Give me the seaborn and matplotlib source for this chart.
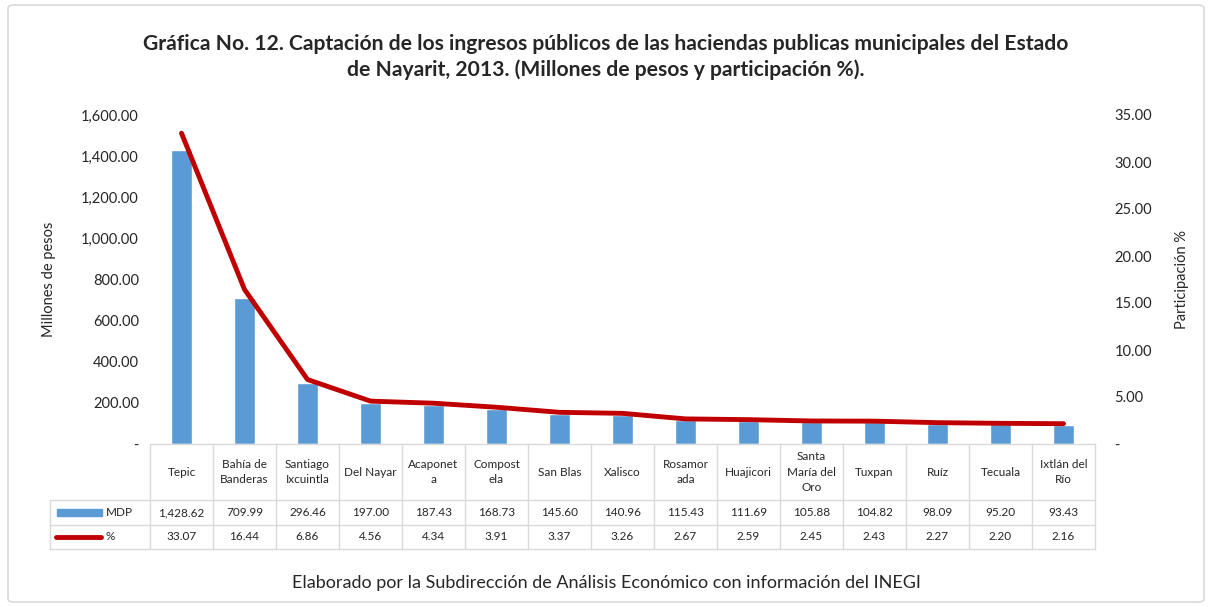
import numpy as np
import pandas as pd
import matplotlib
matplotlib.use("Agg")
import matplotlib.pyplot as plt
import matplotlib.transforms as mtransforms
from matplotlib.lines import Line2D
from matplotlib.patches import Rectangle, FancyBboxPatch
import seaborn as sns

municipios = ["Tepic", "Bahía de\nBanderas", "Santiago\nIxcuintla", "Del Nayar",
              "Acaponet\na", "Compost\nela", "San Blas", "Xalisco", "Rosamor\nada",
              "Huajicori", "Santa\nMaría del\nOro", "Tuxpan", "Ruíz", "Tecuala",
              "Ixtlán del\nRío"]
mdp = [1428.62, 709.99, 296.46, 197.00, 187.43, 168.73, 145.60, 140.96,
       115.43, 111.69, 105.88, 104.82, 98.09, 95.20, 93.43]
participacion = [33.07, 16.44, 6.86, 4.56, 4.34, 3.91, 3.37, 3.26,
                 2.67, 2.59, 2.45, 2.43, 2.27, 2.20, 2.16]
left_ticks = [0, 200, 400, 600, 800, 1000, 1200, 1400, 1600]
right_ticks = [0, 5, 10, 15, 20, 25, 30, 35]

BLUE = "#5B9BD5"
RED = "#C00000"
GRID = "#D9D9D9"
W, H = 1212, 607

sns.set_theme(style="white")
plt.rcParams["font.family"] = ["Lato", "DejaVu Sans"]

df = pd.DataFrame({"municipio": municipios, "mdp": mdp, "pct": participacion})
df["pos"] = np.arange(len(df))

fig = plt.figure(figsize=(W / 100, H / 100), dpi=100)
ax = fig.add_axes([150 / W, 1 - 444 / H, (1095 - 150) / W, (444 - 115) / H])

sns.barplot(data=df, x="municipio", y="mdp", color=BLUE, width=0.32,
            saturation=1, ax=ax)
ax.set_xlim(-0.5, len(df) - 0.5)
ax.set_ylim(0, 1600)
ax.set_yticks(left_ticks)
ax.set_yticklabels(["-" if t == 0 else f"{t:,.2f}" for t in left_ticks], fontsize=10.5)
ax.set_xticks([])
ax.set_xlabel("")
ax.set_ylabel("Millones de pesos", fontsize=10.5)
ax.yaxis.set_label_coords(-0.1, 0.5)
ax.tick_params(axis="y", length=0, pad=8)
for s in ax.spines.values():
    s.set_visible(False)

ax2 = ax.twinx()
sns.lineplot(data=df, x="pos", y="pct", color=RED, linewidth=3.5, ax=ax2)
ax2.set_xlim(-0.5, len(df) - 0.5)
ax2.set_ylim(0, 35)
ax2.set_yticks(right_ticks)
ax2.set_yticklabels(["-" if t == 0 else f"{t:.2f}" for t in right_ticks], fontsize=10.5)
ax2.set_ylabel("Participación %", fontsize=10.5)
ax2.yaxis.set_label_coords(1.085, 0.5)
ax2.tick_params(axis="y", length=0, pad=14)
ax2.set_xlabel("")
for s in ax2.spines.values():
    s.set_visible(False)

# data table under the chart
tr = mtransforms.blended_transform_factory(ax.transData, fig.transFigure)
fy = lambda p: 1 - p / H
n = len(df)
x0, x1 = -0.5, n - 0.5
rows = [444, 500, 525, 549]
fig.add_artist(Line2D([x0, x1], [fy(444)] * 2, color=GRID, lw=1, transform=tr))
for y in rows[1:]:
    fig.add_artist(Line2D([50 / W, 1095 / W], [fy(y)] * 2, color=GRID, lw=1,
                          transform=fig.transFigure))
for i in range(n + 1):
    fig.add_artist(Line2D([i - 0.5] * 2, [fy(444), fy(549)], color=GRID, lw=1,
                          transform=tr))
fig.add_artist(Line2D([50 / W] * 2, [fy(500), fy(549)], color=GRID, lw=1,
                      transform=fig.transFigure))

for i, row in df.iterrows():
    fig.text(i, fy(472), row["municipio"], transform=tr, ha="center", va="center",
             fontsize=8.5, linespacing=1.45)
    fig.text(i, fy(512.5), f"{row['mdp']:,.2f}", transform=tr, ha="center",
             va="center", fontsize=8.5)
    fig.text(i, fy(537), f"{row['pct']:.2f}", transform=tr, ha="center",
             va="center", fontsize=8.5)

fig.add_artist(Rectangle((57 / W, fy(516)), 45 / W, 7 / H, color=BLUE,
                         transform=fig.transFigure))
fig.text(106 / W, fy(512.5), "MDP", fontsize=8.5, va="center")
fig.add_artist(Line2D([56 / W, 101 / W], [fy(537)] * 2, color=RED, lw=3.5,
                      transform=fig.transFigure))
fig.text(106 / W, fy(537), "%", fontsize=8.5, va="center")

fig.text(0.5, fy(57), "Gráfica No. 12. Captación de los ingresos públicos de las haciendas "
         "publicas municipales del Estado\nde Nayarit, 2013. (Millones de pesos y "
         "participación %).", ha="center", va="center", fontsize=15.2,
         fontweight="bold", linespacing=1.35)
fig.text(0.5, fy(583), "Elaborado por la Subdirección de Análisis Económico con "
         "información del INEGI", ha="center", va="center", fontsize=13)

fig.add_artist(FancyBboxPatch((8 / W, 5 / H), 1196 / W, 597 / H,
                              boxstyle="round,pad=0,rounding_size=0.005",
                              fill=False, edgecolor=GRID, lw=1.2,
                              transform=fig.transFigure))

fig.savefig("out.png", dpi=100)
